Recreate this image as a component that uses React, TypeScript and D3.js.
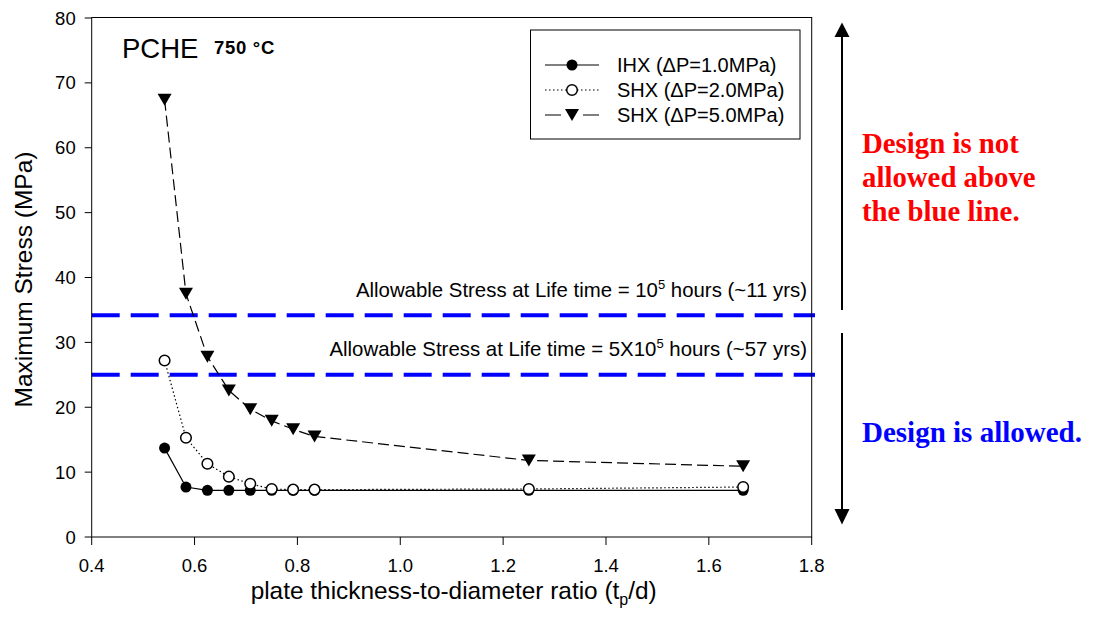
import React from "react";
import * as d3 from "d3";

const ratios = [0.5417, 0.5833, 0.625, 0.6667, 0.7083, 0.75, 0.7917, 0.8333, 1.25, 1.6667];
const ihx = [13.7, 7.7, 7.2, 7.2, 7.2, 7.2, 7.2, 7.2, 7.2, 7.2];
const shx2 = [27.2, 15.3, 11.3, 9.3, 8.2, 7.4, 7.3, 7.3, 7.4, 7.7];
const shx5 = [67.4, 37.5, 27.8, 22.6, 19.7, 17.9, 16.6, 15.5, 11.8, 10.9];
const seriesNames = ["IHX (\u0394P=1.0MPa)", "SHX (\u0394P=2.0MPa)", "SHX (\u0394P=5.0MPa)"];
const xTicks = [0.4, 0.6, 0.8, 1.0, 1.2, 1.4, 1.6, 1.8];
const yTicks = [0, 10, 20, 30, 40, 50, 60, 70, 80];
const allowable = [34.2, 25];
const allowableText = [
  ["Allowable Stress at Life time = 10", "5", " hours (~11 yrs)"],
  ["Allowable Stress at Life time = 5X10", "5", " hours (~57 yrs)"],
];

const W = 1093;
const H = 628;
const left = 91.7;
const right = 811.7;
const top = 18;
const bottom = 537;
const sans = "'Liberation Sans', Arial, sans-serif";
const serif = "'Liberation Serif', 'Times New Roman', serif";

const styles = [
  { dash: undefined, marker: "filled" },
  { dash: "1.5,2.5", marker: "open" },
  { dash: "11,5", marker: "tri" },
];

function Marker({ type, cx, cy }: { type: string; cx: number; cy: number }) {
  if (type === "filled") return <circle cx={cx} cy={cy} r={5.5} fill="#000" />;
  if (type === "open")
    return <circle cx={cx} cy={cy} r={5.3} fill="#fff" stroke="#000" strokeWidth={1.5} />;
  return <path d={`M${cx - 7},${cy - 6}L${cx + 7},${cy - 6}L${cx},${cy + 6}Z`} fill="#000" />;
}

export default function App() {
  const x = d3.scaleLinear().domain([0.4, 1.8]).range([left, right]);
  const y = d3.scaleLinear().domain([0, 80]).range([bottom, top]);
  const all = [ihx, shx2, shx5];
  const line = d3
    .line<number>()
    .x((_, i) => x(ratios[i]))
    .y((d) => y(d));

  return (
    <svg
      width={W}
      height={H}
      style={{ position: "absolute", left: 0, top: 0, background: "#fff" }}
      fontFamily={sans}
    >
      <rect x={0} y={0} width={W} height={H} fill="#fff" />

      {/* allowable stress lines */}
      {allowable.map((v, i) => (
        <g key={i}>
          <line
            x1={left}
            x2={815}
            y1={y(v)}
            y2={y(v)}
            stroke="#0000ff"
            strokeWidth={4}
            strokeDasharray="28,11"
          />
          <text x={807} y={y(v) - 18.5} textAnchor="end" fontSize={20.4} fill="#000">
            {allowableText[i][0]}
            <tspan fontSize={13} dy={-8}>
              {allowableText[i][1]}
            </tspan>
            <tspan dy={8}>{allowableText[i][2]}</tspan>
          </text>
        </g>
      ))}

      {/* frame */}
      <rect x={left} y={top - 0.5} width={right - left} height={bottom - top + 0.5} fill="none" stroke="#000" strokeWidth={1} />

      {/* y axis */}
      {yTicks.map((t) => (
        <g key={t}>
          <line x1={left - 7} x2={left} y1={y(t)} y2={y(t)} stroke="#000" />
          <text x={left - 16} y={y(t) + 6.5} textAnchor="end" fontSize={18.5}>
            {t}
          </text>
        </g>
      ))}
      {/* x axis */}
      {xTicks.map((t) => (
        <g key={t}>
          <line x1={x(t)} x2={x(t)} y1={bottom} y2={bottom + 8} stroke="#000" />
          <text x={x(t)} y={572} textAnchor="middle" fontSize={18.5}>
            {t.toFixed(1)}
          </text>
        </g>
      ))}

      <text
        transform={`translate(32,${(top + bottom) / 2 + 2}) rotate(-90)`}
        textAnchor="middle"
        fontSize={24.5}
      >
        Maximum Stress (MPa)
      </text>
      <text x={(left + right) / 2 + 2} y={599} textAnchor="middle" fontSize={24.4}>
        plate thickness-to-diameter ratio (t
        <tspan fontSize={16} dy={6}>p</tspan>
        <tspan dy={-6}>/d)</tspan>
      </text>

      <text x={122} y={58} fontSize={27.5}>PCHE</text>
      <text x={214} y={54} fontSize={18.5} fontWeight="bold" letterSpacing={0.7}>
        750 {"\u00b0"}C
      </text>

      {/* series */}
      {all.map((s, k) => (
        <path key={k} d={line(s) || ""} fill="none" stroke="#000" strokeWidth={1.2} strokeDasharray={styles[k].dash} />
      ))}
      {all.map((s, k) => (
        <g key={k}>
          {s.map((v, i) => (
            <Marker key={i} type={styles[k].marker} cx={x(ratios[i])} cy={y(v)} />
          ))}
        </g>
      ))}

      {/* legend */}
      <rect x={530.5} y={30} width={269.5} height={109} fill="#fff" stroke="#000" strokeWidth={1} />
      {seriesNames.map((n, k) => {
        const cy = 65 + k * 25;
        return (
          <g key={n}>
            <line
              x1={545}
              x2={599}
              y1={cy}
              y2={cy}
              stroke="#000"
              strokeWidth={1.2}
              strokeDasharray={k === 2 ? "16,22" : styles[k].dash}
            />
            <Marker type={styles[k].marker} cx={572} cy={cy} />
            <text x={617} y={cy + 7} fontSize={20}>
              {n}
            </text>
          </g>
        );
      })}

      {/* design arrows */}
      <line x1={842} x2={842} y1={34} y2={310} stroke="#000" strokeWidth={2} />
      <path d="M834.5,37L849.5,37L842,22.5Z" fill="#000" />
      <line x1={842} x2={842} y1={333} y2={512} stroke="#000" strokeWidth={2} />
      <path d="M834.5,509L849.5,509L842,524.5Z" fill="#000" />

      <text x={862} fontFamily={serif} fontWeight="bold" fontSize={28.8} fill="#ff0000">
        <tspan x={862} y={153}>Design is not</tspan>
        <tspan x={862} y={187}>allowed above</tspan>
        <tspan x={862} y={221}>the blue line.</tspan>
      </text>
      <text x={862} y={442} fontFamily={serif} fontWeight="bold" fontSize={29} fill="#ff0000" style={{ fill: "#0000ff" }}>
        Design is allowed.
      </text>
    </svg>
  );
}
